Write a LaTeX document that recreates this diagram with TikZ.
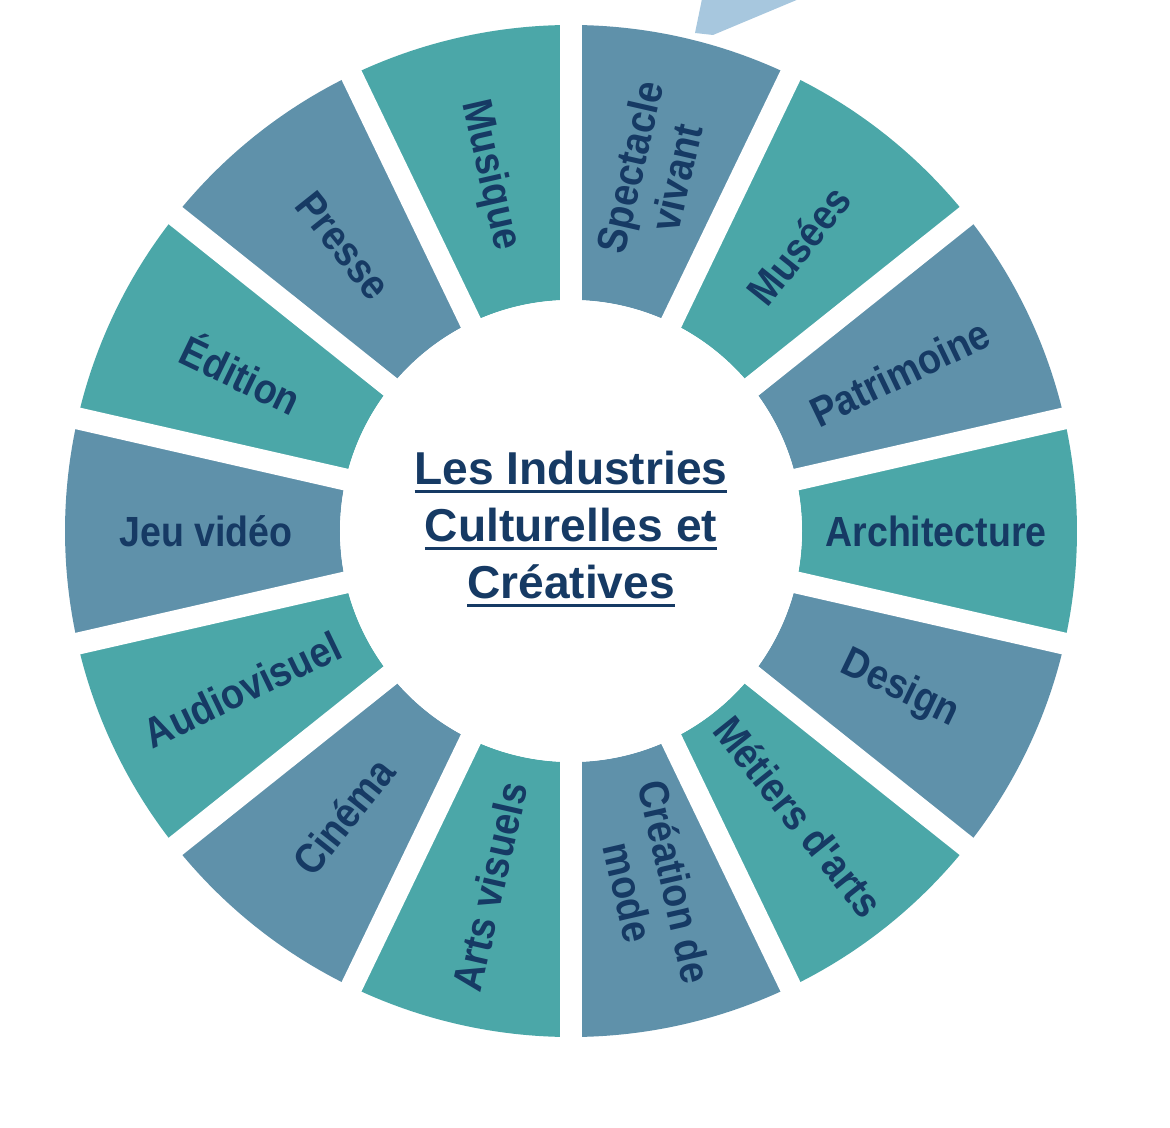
\documentclass[tikz,border=0pt]{standalone}
\usepackage{fontspec}
\setmainfont{Liberation Sans}
\newfontfamily\lblfont[FakeStretch=0.89]{Liberation Sans}
\usepackage{tikz}
\usepackage{color}
\definecolor{wheelblue}{HTML}{5F91AA}
\definecolor{wheelteal}{HTML}{4BA7A8}
\definecolor{wheelnavy}{HTML}{163A64}
\definecolor{arrowpale}{HTML}{A7C7DE}
\newcommand{\iccline}[1]{\setbox0\hbox{#1}\rlap{\color{wheelnavy}\rule[-5.5pt]{\wd0}{1.8pt}}\box0}

\begin{document}
\begin{tikzpicture}
						\tikzstyle{segblue}=[fill=wheelblue]
						\tikzstyle{segteal}=[fill=wheelteal]
						\tikzstyle{gapline}=[draw=white, line width=0.55cm]
						\tikzstyle{lbl}=[text=wheelnavy, font=\lblfont\fontsize{30}{34}\selectfont\bfseries, align=center, inner sep=0pt]
						\useasboundingbox (-14.275,-14.9) rectangle (14.975,13.275);
						\fill [arrowpale] (3.1,12.45) -- (3.275,13.3) -- (5.7,13.3) -- (3.55,12.4) -- cycle;
						\fill [segblue] (64.29:5.775) arc [start angle=64.29, end angle=90, radius=5.775] -- (90:12.65) arc [start angle=90, end angle=64.29, radius=12.65] -- cycle;
						\fill [segteal] (38.57:5.775) arc [start angle=38.57, end angle=64.29, radius=5.775] -- (64.29:12.65) arc [start angle=64.29, end angle=38.57, radius=12.65] -- cycle;
						\fill [segblue] (12.86:5.775) arc [start angle=12.86, end angle=38.57, radius=5.775] -- (38.57:12.65) arc [start angle=38.57, end angle=12.86, radius=12.65] -- cycle;
						\fill [segteal] (-12.86:5.775) arc [start angle=-12.86, end angle=12.86, radius=5.775] -- (12.86:12.65) arc [start angle=12.86, end angle=-12.86, radius=12.65] -- cycle;
						\fill [segblue] (-38.57:5.775) arc [start angle=-38.57, end angle=-12.86, radius=5.775] -- (-12.86:12.65) arc [start angle=-12.86, end angle=-38.57, radius=12.65] -- cycle;
						\fill [segteal] (-64.29:5.775) arc [start angle=-64.29, end angle=-38.57, radius=5.775] -- (-38.57:12.65) arc [start angle=-38.57, end angle=-64.29, radius=12.65] -- cycle;
						\fill [segblue] (-90:5.775) arc [start angle=-90, end angle=-64.29, radius=5.775] -- (-64.29:12.65) arc [start angle=-64.29, end angle=-90, radius=12.65] -- cycle;
						\fill [segteal] (-115.71:5.775) arc [start angle=-115.71, end angle=-90, radius=5.775] -- (-90:12.65) arc [start angle=-90, end angle=-115.71, radius=12.65] -- cycle;
						\fill [segblue] (-141.43:5.775) arc [start angle=-141.43, end angle=-115.71, radius=5.775] -- (-115.71:12.65) arc [start angle=-115.71, end angle=-141.43, radius=12.65] -- cycle;
						\fill [segteal] (-167.14:5.775) arc [start angle=-167.14, end angle=-141.43, radius=5.775] -- (-141.43:12.65) arc [start angle=-141.43, end angle=-167.14, radius=12.65] -- cycle;
						\fill [segblue] (167.14:5.775) arc [start angle=167.14, end angle=192.86, radius=5.775] -- (192.86:12.65) arc [start angle=192.86, end angle=167.14, radius=12.65] -- cycle;
						\fill [segteal] (141.43:5.775) arc [start angle=141.43, end angle=167.14, radius=5.775] -- (167.14:12.65) arc [start angle=167.14, end angle=141.43, radius=12.65] -- cycle;
						\fill [segblue] (115.71:5.775) arc [start angle=115.71, end angle=141.43, radius=5.775] -- (141.43:12.65) arc [start angle=141.43, end angle=115.71, radius=12.65] -- cycle;
						\fill [segteal] (90:5.775) arc [start angle=90, end angle=115.71, radius=5.775] -- (115.71:12.65) arc [start angle=115.71, end angle=90, radius=12.65] -- cycle;
						\draw [gapline] (90:13) -- (-90:13);
						\draw [gapline] (64.29:13) -- (-115.71:13);
						\draw [gapline] (38.57:13) -- (-141.43:13);
						\draw [gapline] (12.86:13) -- (-167.14:13);
						\draw [gapline] (-12.86:13) -- (167.14:13);
						\draw [gapline] (-38.57:13) -- (141.43:13);
						\draw [gapline] (-64.29:13) -- (115.71:13);
						\fill [white] (0,0) circle (5.775);
						\node [lbl, rotate=77.14] (spectacle) at (77.14:9.2) {Spectacle\\vivant};
						\node [lbl, rotate=51.43] (musees) at (51.43:9.125) {Musées};
						\node [lbl, rotate=25.71] (patrimoine) at (25.71:9.125) {Patrimoine};
						\node [lbl] (architecture) at (0:9.125) {Architecture};
						\node [lbl, rotate=-25.71] (design) at (-25.71:9.125) {Design};
						\node [lbl, rotate=-51.43] (metiers) at (-51.43:9.125) {Métiers d'arts};
						\node [lbl, rotate=-77.14] (creation) at (-77.14:9.125) {Création de\\mode};
						\node [lbl, rotate=77.14] (artsvisuels) at (-102.86:9.125) {Arts visuels};
						\node [lbl, rotate=51.43] (cinema) at (-128.57:9.125) {Cinéma};
						\node [lbl, rotate=25.71] (audiovisuel) at (-154.29:9.125) {Audiovisuel};
						\node [lbl] (jeuvideo) at (180:9.125) {Jeu vidéo};
						\node [lbl, rotate=-25.71] (edition) at (154.29:9.125) {Édition};
						\node [lbl, rotate=-51.43] (presse) at (128.57:9.125) {Presse};
						\node [lbl, rotate=-77.14] (musique) at (102.86:9.125) {Musique};
						\node [text=wheelnavy, font=\fontsize{32.8}{40.5}\selectfont\bfseries, align=center, inner sep=0pt] (icc) at (0,0.05) {\iccline{Les Industries}\\\iccline{Culturelles et}\\\iccline{Créatives}};
					\end{tikzpicture}
\end{document}
